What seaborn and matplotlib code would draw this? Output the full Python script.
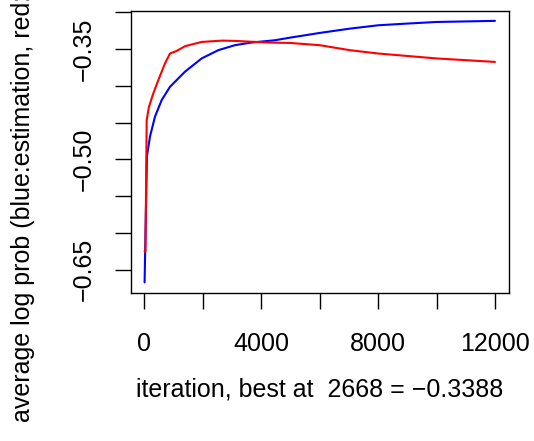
import numpy as np
import pandas as pd
import matplotlib
matplotlib.use('Agg')
import matplotlib.pyplot as plt
import seaborn as sns

# valores
est_iter = [10, 60, 90, 195, 366, 595, 879, 1392, 1962, 2530, 3100, 3672, 4469,
            5000, 6000, 7040, 8000, 8980, 10000, 12000]
est_logp = [-0.667, -0.560, -0.496, -0.469, -0.442, -0.4195, -0.4015, -0.381, -0.363,
            -0.3518, -0.345, -0.3414, -0.3383, -0.3347, -0.3284, -0.3225, -0.318,
            -0.3157, -0.3135, -0.312]

val_iter = [10, 40, 82, 160, 308, 479, 708, 879, 1108, 1392, 1962, 2668, 3100, 4240,
            5000, 6000, 7040, 8000, 10000, 12000]
val_logp = [-0.625, -0.625, -0.4466, -0.4286, -0.4105, -0.3925, -0.3698, -0.3563,
            -0.3528, -0.3464, -0.3406, -0.3388, -0.3392, -0.3414, -0.3420, -0.345,
            -0.3518, -0.3563, -0.363, -0.3677]

x_ticks = [0, 2000, 4000, 6000, 8000, 10000, 12000]
x_labels = ['0', '', '4000', '', '8000', '', '12000']
y_ticks = [-0.65, -0.60, -0.55, -0.50, -0.45, -0.40, -0.35, -0.30]
y_labels = ['\u22120.65', '', '', '\u22120.50', '', '', '\u22120.35', '']

df = pd.concat([
    pd.DataFrame({'iter': est_iter, 'logp': est_logp, 'serie': 'estimation'}),
    pd.DataFrame({'iter': val_iter, 'logp': val_logp, 'serie': 'validation'}),
])

sns.set_theme(style='white')
plt.rcParams['font.family'] = ['Liberation Sans', 'DejaVu Sans']
plt.rcParams['text.color'] = 'black'
plt.rcParams['axes.labelcolor'] = 'black'
plt.rcParams['xtick.color'] = 'black'
plt.rcParams['ytick.color'] = 'black'

fig = plt.figure(figsize=(5.34, 4.41), dpi=100)
ax = fig.add_axes([131 / 534, 1 - 293 / 441, 378 / 534, 282 / 441])

sns.lineplot(data=df, x='iter', y='logp', hue='serie',
             palette={'estimation': 'blue', 'validation': 'red'},
             linewidth=1.5, legend=False, ax=ax, estimator=None, sort=False)

ax.set_xlim(-455, 12480)
ax.set_ylim(-0.6814, -0.2986)
ax.set_xticks(x_ticks)
ax.set_xticklabels(x_labels, fontsize=18, color='black')
ax.set_yticks(y_ticks)
ax.set_yticklabels(y_labels, fontsize=18, rotation=90, va='center', color='black')

for s in ax.spines.values():
    s.set_color('black')
    s.set_linewidth(1.0)
ax.tick_params(axis='both', direction='out', length=11.5, width=1.0, color='black',
               labelcolor='black', bottom=True, left=True)
ax.tick_params(axis='x', pad=16.5)
ax.tick_params(axis='y', pad=14)

ax.set_xlabel('iteration, best at  2668 = \u22120.3388', fontsize=18, color='black')
ax.xaxis.set_label_coords(0.5, -0.30)
ax.set_ylabel('average log prob (blue:estimation, red:validation)', fontsize=18,
              color='black')
ax.yaxis.set_label_coords(-0.254, 0.5)

fig.savefig('out.png', dpi=100)
